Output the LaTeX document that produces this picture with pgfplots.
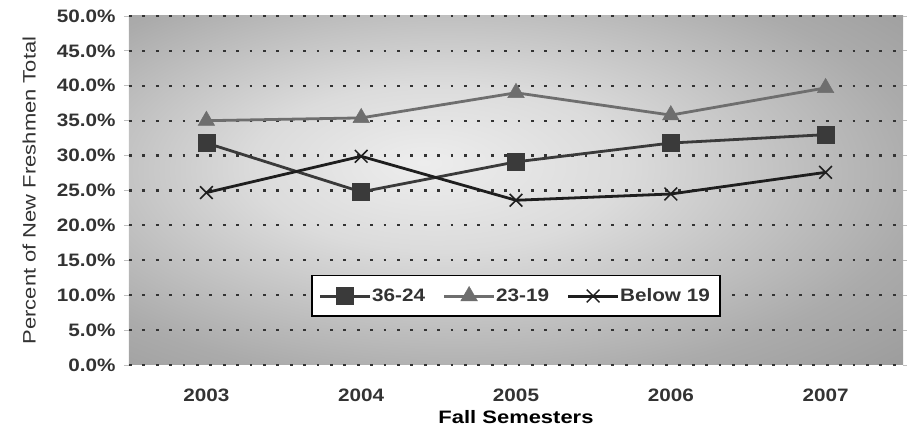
\documentclass[border=0pt]{standalone}
\usepackage{pgfplots}
\pgfplotsset{compat=1.18}
\usepackage{fontspec}
\setmainfont{Liberation Sans}
\newfontfamily\wide{Liberation Sans}[FakeStretch=1.15]
\newfontfamily\wider{Liberation Sans}[FakeStretch=1.22]
\definecolor{sA}{HTML}{3A3A3A}
\definecolor{sB}{HTML}{6E6E6E}
\definecolor{sC}{HTML}{1E1E1E}
\definecolor{tk}{HTML}{333333}
\pgfdeclareradialshading{bgrad}{\pgfpoint{-6bp}{4bp}}{%
 color(0bp)=(white!93!black);
 color(12bp)=(white!86!black);
 color(30bp)=(white!67!black);
 color(50bp)=(white!54!black);
 color(72bp)=(white!47!black)}
\begin{document}
\begin{tikzpicture}
\begin{axis}[
  scale only axis,
  width=774pt, height=349pt,
  xmin=-0.5, xmax=4.5,
  ymin=0, ymax=50,
  xtick={0,1,2,3,4},
  xticklabels={2003,2004,2005,2006,2007},
  extra x ticks={0.5,1.5,2.5,3.5},
  extra x tick labels={},
  extra x tick style={major tick length=5pt, tick style={draw=gray!40, line width=0.8pt}, grid=none},
  ytick={0,5,...,50},
  major x tick style={draw=none},
  ytick style={draw=gray!50, line width=0.8pt},
  major tick length=5pt,
  tick align=outside,
  axis line style={draw=none},
  ymajorgrids,
  major grid style={black!80, line width=2.2pt, dash pattern=on 2.8pt off 10.6pt},
  /pgf/number format/assume math mode=true,
  yticklabel={\pgfmathprintnumber[fixed,fixed zerofill,precision=1]{\tick}\%},
  ticklabel style={font=\wide\fontsize{18}{20}\selectfont\bfseries, text=tk},
  yticklabel style={xshift=-5pt},
  xticklabel style={yshift=-15pt},
  xlabel={Fall Semesters},
  ylabel={Percent of New Freshmen Total},
  xlabel style={font=\wider\fontsize{18}{20}\selectfont\bfseries, yshift=8pt},
  ylabel style={font=\wider\fontsize{18}{19}\selectfont, text=tk, yshift=14pt},
  axis background/.style={shading=bgrad},
  legend columns=3,
  legend style={at={(0.5,0.198)}, anchor=center, fill=white, draw=black, line width=1.8pt,
    font=\wide\fontsize{18}{20}\selectfont\bfseries, text=tk, inner xsep=8pt, inner ysep=11pt,
    /tikz/every even column/.append style={column sep=17pt}},
  legend image code/.code={
    \fill[#1, draw=none] (0pt,-1.5pt) rectangle (50pt,1.5pt);
    \draw[#1, only marks] plot coordinates {(25pt,0pt)};},
]
\addplot[color=sA, line width=2.8pt, mark=square*, mark size=8.5pt, mark options={line width=0.5pt, fill=sA}]
 coordinates {(0,31.8) (1,24.8) (2,29.1) (3,31.8) (4,33.0)};
\addlegendentry{36-24}
\addplot[color=sB, line width=2.8pt, mark=triangle*, mark size=9.5pt, mark options={line width=0.5pt, fill=sB}]
 coordinates {(0,35.0) (1,35.4) (2,39.0) (3,35.8) (4,39.7)};
\addlegendentry{23-19}
\addplot[color=sC, line width=2.8pt, mark=x, mark size=9pt, mark options={line width=1.5pt}]
 coordinates {(0,24.7) (1,29.9) (2,23.6) (3,24.5) (4,27.6)};
\addlegendentry{Below 19}
\end{axis}
\pgfresetboundingbox
\path (-129pt,-65pt) rectangle (778pt,365pt);
\end{tikzpicture}
\end{document}
